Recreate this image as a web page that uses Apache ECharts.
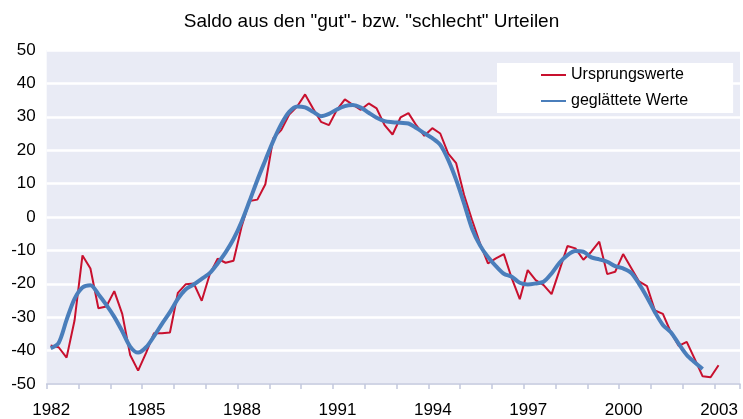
<!DOCTYPE html>
<html>
<head>
<meta charset="utf-8">
<script src="https://cdn.jsdelivr.net/npm/echarts@6/dist/echarts.min.js"></script>
<style>
  html, body { margin: 0; padding: 0; background: #fff; }
  #chart { width: 743px; height: 419px; }
</style>
</head>
<body>
<div id="chart"></div>
<script>
// Quartalswerte ab 1982 Q1
const startYear = 1982
const yearLabels = [1982, 1985, 1988, 1991, 1994, 1997, 2000, 2003]

// Ursprungswerte (1982 Q1 - 2003 Q1)
const rawValues = [
  -38.5, -39.0, -42.1, -31.0, -11.5, -15.4, -27.3, -26.8, -22.2, -29.0,
  -41.3, -46.0, -40.7, -34.8, -34.8, -34.6, -22.7, -20.1, -19.9, -25.1,
  -17.2, -12.5, -13.7, -13.1, -3.0, 4.8, 5.2, 9.8, 23.6, 26.0,
  30.7, 33.1, 36.7, 32.5, 28.5, 27.5, 32.1, 35.2, 33.6, 32.1,
  34.0, 32.5, 27.5, 24.7, 29.8, 31.1, 27.4, 24.3, 26.6, 25.0,
  19.0, 16.1, 6.6, -0.9, -7.9, -13.9, -12.4, -11.1, -18.4, -24.6,
  -15.9, -18.9, -20.4, -23.1, -15.9, -8.7, -9.4, -12.8, -10.4, -7.4,
  -17.1, -16.4, -11.1, -15.2, -19.3, -20.7, -28.0, -29.0, -34.5, -38.6,
  -37.4, -42.5, -47.7, -48.0, -44.4
]

// geglättete Werte (1982 Q1 - 2002 Q3)
const smoothValues = [
  -39.3, -37.7, -30.8, -24.5, -21.1, -20.4, -23.1, -26.3, -29.9, -34.2,
  -38.8, -40.6, -39.0, -35.7, -32.0, -28.5, -24.5, -21.6, -20.2, -18.5,
  -16.8, -13.9, -10.6, -6.6, -1.5, 4.7, 11.1, 17.0, 22.8, 27.8,
  31.5, 33.1, 32.8, 31.5, 30.2, 30.9, 32.2, 33.2, 33.5, 32.8,
  31.2, 29.7, 28.7, 28.4, 28.2, 28.0, 26.6, 25.1, 23.6, 21.6,
  17.1, 11.1, 4.0, -3.5, -8.5, -12.0, -14.7, -17.0, -17.9, -19.7,
  -20.2, -19.9, -19.4, -16.9, -13.7, -11.4, -10.2, -10.4, -12.1, -12.7,
  -13.4, -14.7, -15.4, -16.7, -20.0, -24.0, -28.5, -32.3, -34.5, -38.0,
  -41.3, -43.5, -45.5
]

// Quartal -> Zeitpunkt (Mitte des Quartals)
const toPoints = values => values.map((v, i) => [startYear + (i + 0.5) / 4, v])

const chart = echarts.init(document.getElementById('chart'))

const font = 'Liberation Sans, Arial, sans-serif'

const option = {
  animation: false,
  title: {
    text: 'Saldo aus den "gut"- bzw. "schlecht" Urteilen',
    left: 'center',
    top: 7,
    textStyle: { fontFamily: font, fontSize: 19, fontWeight: 'normal', color: '#000' }
  },
  legend: {
    orient: 'vertical',
    left: 497,
    top: 63,
    padding: [4, 45, 4, 43],
    itemGap: 10,
    itemWidth: 25,
    itemHeight: 16,
    backgroundColor: '#fff',
    itemStyle: { opacity: 0 },
    textStyle: { fontFamily: font, fontSize: 16, color: '#000' },
    data: ['Ursprungswerte', 'geglättete Werte']
  },
  grid: {
    left: 46.7,
    right: 0,
    top: 50,
    bottom: 35,
    show: true,
    backgroundColor: '#e9ebf5',
    borderWidth: 0
  },
  xAxis: {
    type: 'value',
    min: startYear,
    max: 2003.8,
    interval: 1,
    axisLine: { show: true, onZero: false, lineStyle: { color: '#c2c8dd', width: 1.5 } },
    axisTick: { show: true, length: 5, lineStyle: { color: '#c2c8dd', width: 1.5 } },
    splitLine: { show: false },
    axisLabel: {
      margin: 18,
      padding: [0, 0, 0, 9],
      fontFamily: font,
      fontSize: 17,
      color: '#000',
      formatter: v => (yearLabels.includes(v) ? String(v) : '')
    }
  },
  yAxis: {
    type: 'value',
    min: -50,
    max: 50,
    interval: 10,
    axisLine: { show: false },
    axisTick: { show: false },
    splitLine: { show: true, lineStyle: { color: '#fff', width: 2.5 } },
    axisLabel: { margin: 11, fontFamily: font, fontSize: 17, color: '#000' }
  },
  series: [
    {
      name: 'Ursprungswerte',
      type: 'line',
      symbol: 'none',
      data: toPoints(rawValues),
      lineStyle: { color: '#c8102e', width: 2 },
      itemStyle: { color: '#c8102e' },
      z: 2
    },
    {
      name: 'geglättete Werte',
      type: 'line',
      symbol: 'none',
      smooth: 0.3,
      data: toPoints(smoothValues),
      lineStyle: { color: '#4a7ebb', width: 4 },
      itemStyle: { color: '#4a7ebb' },
      z: 3
    }
  ]
}

chart.setOption(option)
</script>
</body>
</html>
